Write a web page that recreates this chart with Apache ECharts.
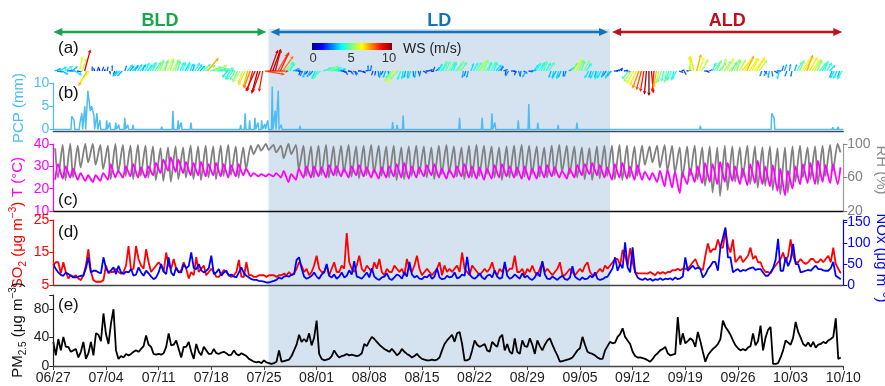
<!DOCTYPE html>
<html><head><meta charset="utf-8">
<script src="https://cdn.jsdelivr.net/npm/echarts@6/dist/echarts.min.js"></script>
<style>html,body{margin:0;padding:0;background:#fff}#c{width:885px;height:386px}</style>
</head><body><div id="c"></div><script>
// ---- axis labels and periods (days since 06/27) ----
const dateLabels = ['06/27','07/04','07/11','07/18','07/25','08/01','08/08','08/15','08/22','08/29','09/05','09/12','09/19','09/26','10/03','10/10'];
const periods = [
  { name: 'BLD', start: 0, end: 28.6 },
  { name: 'LD', start: 28.6, end: 74 },
  { name: 'ALD', start: 74, end: 105 }
];

// ---- daily temperature extremes (°C): minimum ~06:00, maximum ~15:00 ----
const tempLow = [
 24,24.5,25,24,23.5,23,23.5, 24,25,25,25.5,25,25,26, 27,28,27.5,27,26,26,25.5,
 26,25.5,25,25.5,26,25.5,25.5, 25.5,25.5,25,23,24,25,25, 25.5,25,26,25.5,25,26,25.5,
 25,24.5,25,25.5,25,24.5,25, 25.5,26,25,24.5,25,25.5,25, 24.5,24,24.5,25,25.5,25,24.5,
 24,24.5,25,25.5,25,24.5,25, 26,26.5,26,25,24,25,24.5, 24,24,24,23,21,20.5,18,
 22,23,22.5,23,22,23,23.5, 22,21.5,22.5,22,21,19,17, 20,22,22.5,22,23,22.5,22
];
const tempHigh = [
 31,30,29,27,26,26,27, 31,28,30,31,29.5,30,31.5, 33,34,33,32,31.5,32,31,
 31.5,31,30.5,31,29,27,26.5, 26.5,27,28,26.5,29,30,30, 29.5,30.5,30,29,30,30.5,29.5,
 28.5,29.5,30,31,31.5,30,29.5, 30.5,31,29,28.5,30,31,30, 29.5,29,30.5,31,30,29.5,30,
 29,30,30.5,29.5,28,29,30.5, 31,31.5,30.5,29.5,31,31.5,30, 30.5,27.5,27,28,28.5,27.5,27,
 29,30,31.5,31,32,31.5,30, 29,31,32.5,30,30.5,29,28, 30,31,31.5,32.5,30.5,31,29.5
];
// ---- daily relative humidity extremes (%): maximum ~06:00, minimum ~15:00 ----
const rhHigh = [
 95,99,100,98,100,100,99, 98,100,99,98,99,98,97, 95,96,97,96,98,97,98,
 97,98,99,97,96,98,99, 100,99,98,100,99,98,97, 98,99,97,98,99,97,98,
 99,98,97,98,96,97,98, 97,96,98,99,97,96,98, 99,98,97,96,97,98,99,
 98,97,96,98,99,98,97, 96,95,97,98,98,99,98, 97,98,97,98,99,98,96,
 97,98,96,97,96,98,97, 96,98,97,96,97,95,96, 97,98,96,97,98,99,100
];
const rhLow = [
 60,57,60,72,78,75,70, 58,66,62,58,62,60,57, 56,55,58,60,58,57,60,
 58,62,63,60,70,88,92, 93,90,83,88,70,62,60, 63,60,62,66,61,59,63,
 65,62,60,57,58,62,64, 60,58,64,66,61,58,60, 62,64,60,57,60,62,61,
 64,61,60,63,67,64,60, 58,57,59,62,58,57,60, 62,75,78,72,68,66,60,
 62,58,50,42,38,45,55, 60,52,48,50,45,40,42, 55,60,58,52,62,68,90
];

// ---- precipitation events [day, mm] ----
const pcpEvents = [
 [2.45,2.8],[2.75,2],[3.55,1.5],[3.8,3.5],[4.2,5],[4.6,8.3],[4.9,4],[5.1,5],[5.4,3],[5.8,3.5],[6.2,2],
 [7.1,2],[7.5,1.5],[8.3,1.5],[8.7,1],[9.5,2.5],[9.9,1],[10.6,1],[14.4,0.6],[15.9,4],[16.6,2],[17,1.5],[18.3,1.5],
 [24.9,1],[25.5,3.5],[26.1,2],[26.8,2.5],[27.2,1.5],[27.7,2],[28.1,1.2],[28.5,2],[29.1,9.2],[29.5,4],[29.9,8.4],[30.3,1],
 [32.8,0.8],[45.1,1.6],[45.7,1],[46.5,3],[54,2.5],[57,2.5],[58.3,3.5],[58.7,1.5],[61.8,2],[63.2,5.5],[64.4,1.5],
 [67.1,1],[69.6,1.5],[79,0.3],[86,0.8],[95.5,3.5],[95.8,2.5],[103.6,0.5],[104.3,0.6]
];

// ---- 8-hourly SO2 (µg m-3), three values per day ----
const so2 = [
 11,12,12, 8.6,12,9, 7,8,7.5, 8,7,6.5, 8,11,16, 9,6.5,6, 6,6,6.5,
 11,8.6,9, 9,10,9, 8.5,9,11, 17,9.6,10, 17,13,11, 10,16,12, 9,10,11,
 12,11,9, 15,11,10, 13,10,9, 9.5,12,10, 7,9,8, 13.6,9,10, 11,8,9,
 10,9,7.5, 7.5,8.5,9.6, 9,8,7.5, 8,9,12.7, 7.5,7.5,12, 8,8,7.5, 7.5,8,8,
 8,7.5,8, 8,8,7.5, 8,8,8.5, 8,9,8, 8.5,10,12, 11,9,10, 8,9,11,
 14,10,9, 9,11,8, 10,12,9, 9,11,10, 21,12,10, 9,11,14, 10,9,11,
 10,9,12, 10,13,9, 8,10,9, 9,11,10, 9,10,8, 13,10,9, 11,14,10,
 8,9,10, 9,8,9, 10,12,8, 11,9,10, 9,10,11, 9,15,10, 9,8,11,
 10,9,8, 9,10,9, 10,12,9, 8,10,9, 11,9,10, 10,14,9, 9,10,8,
 10,9,11, 9,8,10, 12,9,10, 9,8,9, 10,12,8, 8,9,10, 9,8,9,
 10,9,11, 12,9,8, 8,9,10, 9,11,10, 11,12,13, 13,11,15.8, 14,11,16.3,
 12,9,8.6, 8.6,8.6,8.6, 8.5,9,8.5, 8,9,8.5, 9,8.5,9, 9,9.6,9.5, 10,9.5,10,
 10,10,11, 12,13,11, 10,9.6,14, 17.8,15,16, 16,19,16.5, 16.5,22,17, 15,19,12,
 13,14,12, 13,14,16.5, 13,14,12, 12,10,9, 9,8.6,10, 11,12,13, 15,12,14,
 19,14,12, 12,13,12, 11.5,12,13, 13,12,12, 13,12,13, 14,12,16.5, 11.5,10,8.6
];
// ---- 8-hourly NOx (µg m-3) ----
const nox = [
 50,38,30, 24,22,30, 26,22,18, 18,20,22, 22,40,66, 30,34,34, 30,28,66,
 40,30,35, 42,26,46, 30,26,32, 30,38,22, 25,42,30, 22,34,28, 20,14,18,
 30,50,32, 26,66,30, 22,42,30, 30,50,40, 45,78,40, 38,50,35, 30,34,40,
 70,26,30, 38,22,30, 34,22,25, 20,18,30, 42,28,22, 18,14,12, 12,10,9,
 8,6,6, 8,10,12, 18,15,20, 22,20,25, 26,60,66, 40,20,15, 18,22,30,
 20,15,25, 30,50,22, 18,25,15, 20,30,18, 22,35,25, 57,20,18, 15,22,30,
 18,40,20, 15,12,18, 20,28,15, 12,18,25, 22,15,30, 20,55,25, 18,22,15,
 14,20,18, 25,15,20, 40,18,14, 15,22,18, 20,30,16, 18,25,22, 67,25,18,
 15,20,28, 18,14,22, 25,18,35, 20,15,18, 55,22,15, 18,25,20, 15,28,18,
 22,15,12, 18,30,20, 57,25,15, 14,20,16, 12,18,22, 14,12,18, 45,20,15,
 12,18,14, 15,22,18, 30,15,12, 14,18,20, 30,40,66, 34,50,40, 102,42,30,
 90,30,18, 14,12,16, 12,15,10, 14,12,16, 12,15,14, 16,12,18, 14,16,20,
 66,34,40, 46,38,42, 38,18,25, 38,45,55, 55,34,90, 113,137,66, 66,30,35,
 38,32,36, 34,38,40, 42,36,38, 38,30,22, 22,30,40, 60,110,34, 34,66,45,
 60,98,50, 50,30,32, 34,36,34, 40,46,38, 38,35,34, 34,40,55, 22,18,14
];
// ---- 8-hourly PM2.5 (µg m-3) ----
const pm25 = [
 34,15,38, 22,41,27, 27,20,22, 24,12,20, 34,10,18, 34,15,46, 44,35,74,
 45,31,60, 80,22,10, 14,12,17, 15,17,20, 22,20,24, 28,43,30, 27,17,16,
 17,16,18, 27,46,29, 30,36,24, 12,27,27, 34,20,10, 31,20,15, 27,22,17,
 17,24,18, 17,19,20, 18,15,16, 22,17,15, 18,16,14, 10,8,6, 5,6,4,
 8,5,4, 3,4,6, 22,6,7, 8,9,14, 22,30,44, 34,38,34, 46,29,40,
 64,17,10, 8,9,10, 14,22,16, 12,14,15, 17,15,16, 15,14,15, 18,31,28,
 35,41,38, 34,30,27, 24,22,20, 24,20,15, 18,24,20, 17,15,12, 14,17,13,
 10,9,8, 8,9,8, 9,12,22, 31,36,40, 44,34,46, 48,31,8, 8,10,22,
 36,30,27, 29,31,22, 20,34,30, 27,40,44, 22,31,20, 17,39,20, 17,36,28,
 27,39,30, 17,36,28, 22,30,36, 39,30,22, 15,6,7, 8,9,10, 12,17,22,
 25,41,30, 20,18,17, 15,12,10, 10,22,28, 34,32,33, 41,45,53, 41,36,31,
 20,14,12, 12,11,10, 8,6,10, 15,18,22, 24,27,18, 15,16,17, 69,30,46,
 32,35,39, 36,27,48, 35,20,6, 15,20,24, 27,31,38, 64,55,50, 44,36,29,
 25,22,24, 22,26,28, 46,29,35, 57,22,40, 51,55,3, 3,4,12, 22,36,33,
 30,40,62, 48,40,31, 28,33,27, 34,26,30, 31,34,32, 36,38,41, 67,10,12
];
// ---- 8-hourly wind speed (m/s) and direction (deg, blowing from) ----
const windSpeed = [
 3,2.5,3.5, 3,4,2.5, 2.5,3,3.5, 2,6,5.5, 9,7,6, 2,1.5,2, 1.5,2,1,
 2,1.5,2.5, 2,3,3.5, 3,2.5,3.5, 3,3.5,3, 3.5,4,3, 4,3.5,4.5, 4,4.5,5,
 5,5.5,4.5, 6,5,5.5, 5,4.5,4, 4,3.5,4, 3.5,3,4, 3.5,3,4.5, 5,7,5,
 4.5,5.5,4, 4,5,4, 3.5,4,4.5, 4.5,5,5.5, 5.5,6.5,7, 7.5,8.5,9, 9.5,9,8.5,
 8,8.5,9, 9.5,9,8, 8.5,7.5,5, 4.5,4,3, 2.5,2,2, 2.5,3,2, 3,2.5,3.5,
 4,4.5,4, 4.5,5,4.5, 4,4.5,3.5, 2,1.5,2, 1.5,2,2.5, 2,1.5,2, 1.5,2,2.5,
 2.5,2,2, 2.5,3,2, 3,2.5,4, 5.5,6,5, 4,3.5,3, 3,3.5,2.5, 3,2,2.5,
 2,1.5,2, 1.5,2,2.5, 3.5,4,4.5, 4.5,5,4, 4,4.5,5, 4.5,3,2.5, 3,3.5,4,
 4.5,5,5.5, 5,4.5,4, 4.5,4,3.5, 3,2.5,2, 2,2.5,2, 1.5,2,2.5, 2.5,2,3,
 2,2.5,3.5, 4,4.5,4, 4.5,4,4.5, 3,3.5,3, 3.5,3,2.5, 2.5,3,4.5, 6,5.5,5,
 4.5,5,4, 3.5,3,3.5, 3,4,3.5, 3,2.5,3.5, 3,2,1.5, 2,1.5,2, 2,4.5,5.5,
 6,6.5,7.5, 8,8.5,9.5, 10,9,8.5, 7,5.5,5, 4.5,5,4, 4.5,4,4, 2,1.5,2,
 2,5,6, 6.5,7,6, 5.5,2,1.5, 2,4,4.5, 5,4.5,5.5, 5,6,5, 4.5,5.5,5,
 5.5,6.5,6, 7,6.5,6, 6,6.5,5.5, 2.5,2,2.5, 3,2.5,2, 2,3.5,2.5, 3,2.5,3,
 2.5,3,4.5, 5,6,6.5, 7,6.5,6, 5.5,5,4.5, 4,4.5,4, 3.5,3,3.5, 3.5,3,4
];
const windDir = [
 250,280,240, 300,240,260, 270,230,300, 280,190,200, 195,30,40, 180,160,200, 170,200,190,
 190,350,180, 20,40,50, 45,200,220, 220,230,210, 215,225,205, 210,220,215, 205,215,210,
 200,210,195, 205,200,210, 200,195,205, 200,210,195, 205,200,210, 215,225,230, 240,220,250,
 250,245,255, 260,255,265, 40,30,35, 30,25,35, 20,25,15, 20,15,25, 15,20,10,
 280,270,200, 200,195,210, 205,215,220, 225,200,250, 260,280,20, 30,20,40, 30,40,25,
 35,45,250, 250,245,255, 250,260,255, 270,300,330, 280,320,300, 350,270,290, 310,260,180,
 190,20,10, 350,10,30, 20,350,30, 40,35,45, 20,10,15, 5,20,355, 10,340,15,
 300,270,250, 280,200,230, 210,220,200, 205,215,210, 200,220,210, 215,10,20, 15,200,210,
 215,220,210, 205,215,200, 210,205,220, 230,200,250, 10,30,270, 290,20,340, 10,300,30,
 280,260,220, 210,215,205, 200,210,215, 20,10,30, 15,25,5, 20,240,220, 215,210,205,
 200,210,215, 30,20,25, 15,25,30, 20,35,25, 40,270,250, 230,200,260, 280,40,35,
 30,25,20, 15,10,5, 0,355,5, 10,15,20, 15,10,20, 25,15,30, 290,250,330,
 260,190,170, 165,195,200, 210,270,300, 250,210,215, 205,220,200, 215,210,225, 210,205,200,
 210,220,215, 205,215,210, 220,210,215, 20,320,30, 10,350,300, 270,15,200, 200,20,190,
 10,200,210, 205,215,210, 200,210,215, 210,205,220, 215,200,210, 225,20,30, 25,15,30
];

// ---- styling ----
const FONT = "'Liberation Sans', Arial, Helvetica, sans-serif";
const LEFT = 53.3, RIGHT = 885 - 843.3;
const periodColors = { BLD: '#1aa550', LD: '#1373b9', ALD: '#c0101c' };
const C_PCP = '#4cbdf3', C_T = '#ff00ff', C_RH = '#808080', C_SO2 = '#ff0000', C_NOX = '#0000ff';

function jet(t) {
  t = Math.max(0, Math.min(1, t));
  const cl = v => Math.round(255 * Math.max(0, Math.min(1, v)));
  return 'rgb(' + cl(1.5 - Math.abs(4 * t - 3)) + ',' + cl(1.5 - Math.abs(4 * t - 2)) + ',' + cl(1.5 - Math.abs(4 * t - 1)) + ')';
}

// ---- series data ----
const tData = [], rhData = [];
tempLow.forEach((v, i) => { tData.push([i + 0.25, v]); tData.push([i + 0.625, tempHigh[i]]); });
rhHigh.forEach((v, i) => { rhData.push([i + 0.25, v]); rhData.push([i + 0.625, rhLow[i]]); });
const eightHourly = arr => arr.map((v, i) => [i / 3, v]);
const windData = windSpeed.map((s, i) => [i / 3 + 1 / 6, s, windDir[i]]);
const pcpData = [[0, 0]];
let prev = -1;
pcpEvents.forEach(([d, v]) => {
  if (prev < 0 || d - prev > 0.35) {
    if (prev >= 0) pcpData.push([prev + 0.1, 0]);
    pcpData.push([d - 0.1, 0]);
  }
  pcpData.push([d, v]);
  prev = d;
});
pcpData.push([prev + 0.1, 0], [105, 0]);

// ---- axes ----
const xBase = (g, extra) => Object.assign({
  type: 'value', gridIndex: g, min: 0, max: 105, interval: 7, z: 10,
  axisLine: { show: false }, axisTick: { show: false }, axisLabel: { show: false }, splitLine: { show: false }
}, extra || {});
const yBase = (g, color, ticks, labels, extra) => Object.assign({
  type: 'value', gridIndex: g, z: 10,
  axisLine: { show: true, lineStyle: { color: color, width: 1.2 } },
  axisTick: { show: true, length: 4, lineStyle: { color: color }, customValues: ticks },
  axisLabel: { color: color, fontSize: 14, fontFamily: FONT, margin: 4, customValues: labels },
  splitLine: { show: false }
}, extra || {});

const chart = echarts.init(document.getElementById('c'), null, { renderer: 'canvas' });

const subLabel = (parts, color) => ({
  text: parts,
  rich: {
    b: { fontSize: 15, lineHeight: 20, verticalAlign: 'middle', fill: color, fontFamily: FONT },
    s: { fontSize: 10, lineHeight: 10, verticalAlign: 'bottom', fill: color, fontFamily: FONT },
    p: { fontSize: 10, lineHeight: 10, verticalAlign: 'top', fill: color, fontFamily: FONT }
  },
  align: 'center', verticalAlign: 'middle'
});
const sideText = (x, y, rot, style) => ({ type: 'text', x: x, y: y, rotation: rot, silent: true, z: 20, style: style });
const plainStyle = (t, color) => ({ text: t, fill: color, font: '15px ' + FONT, align: 'center', verticalAlign: 'middle' });
const letter = (t, y) => ({ type: 'text', x: 58, y: y, z: 20, silent: true, style: { text: t, fill: '#111', font: '17px ' + FONT, align: 'left', verticalAlign: 'middle' } });

const barStops = [0, 0.125, 0.375, 0.625, 0.875, 1].map(t => ({ offset: t, color: jet(t) }));

chart.setOption({
  animation: false,
  grid: [
    { left: LEFT, right: RIGHT, top: 29, height: 337 },
    { left: LEFT, right: RIGHT, top: 48, height: 46 },
    { left: LEFT, right: RIGHT, top: 83, height: 46.5 },
    { left: LEFT, right: RIGHT, top: 144, height: 67 },
    { left: LEFT, right: RIGHT, top: 220, height: 65 },
    { left: LEFT, right: RIGHT, top: 295, height: 71 }
  ],
  xAxis: [
    xBase(0), xBase(1),
    xBase(2, { axisLine: { show: true, onZero: false, lineStyle: { color: '#3d4b5c', width: 1.3 } }, offset: 1.5 }),
    xBase(3, { axisLine: { show: true, onZero: false, lineStyle: { color: '#111', width: 1.3 } } }),
    xBase(4, { axisLine: { show: true, onZero: false, lineStyle: { color: '#444', width: 1.3 } } }),
    xBase(5, {
      axisLine: { show: true, onZero: false, lineStyle: { color: '#444', width: 1.3 } },
      axisTick: { show: true, length: 4, lineStyle: { color: '#444' } },
      axisLabel: { show: true, color: '#222', fontSize: 14, fontFamily: FONT, margin: 5,
        formatter: v => dateLabels[Math.round(v / 7)] || '' }
    })
  ],
  yAxis: [
    { type: 'value', gridIndex: 0, min: 0, max: 1, show: false },
    { type: 'value', gridIndex: 1, min: -1, max: 1, show: false },
    yBase(2, C_PCP, [0, 5, 10], [0, 5, 10], { min: 0, max: 10 }),
    yBase(3, C_T, [10, 20, 30, 40], [10, 20, 30, 40], { min: 10, max: 40 }),
    yBase(3, C_RH, [20, 60, 100], [20, 60, 100], { min: 20, max: 100, position: 'right',
      axisLine: { show: true, lineStyle: { color: '#9a9a9a', width: 1.2 } } }),
    yBase(4, C_SO2, [5, 15, 25], [5, 15, 25], { min: 5, max: 25 }),
    yBase(4, C_NOX, [0, 50, 100, 150, 155], [0, 50, 100, 150], { min: 0, max: 155, position: 'right' }),
    yBase(5, '#222', [0, 40, 80, 100], [0, 40, 80], { min: 0, max: 100 })
  ],
  series: [
    { // LD shading
      type: 'custom', xAxisIndex: 0, yAxisIndex: 0, z: 0, silent: true,
      data: periods.filter(p => p.name === 'LD').map(p => [p.start, p.end]),
      renderItem: (params, api) => {
        const a = api.coord([api.value(0), 1]), b = api.coord([api.value(1), 0]);
        return { type: 'rect', shape: { x: a[0], y: a[1], width: b[0] - a[0], height: b[1] - a[1] }, style: { fill: '#d5e3f1' } };
      }
    },
    { // period arrows and names
      type: 'custom', xAxisIndex: 0, yAxisIndex: 0, z: 5, silent: true, clip: false,
      data: periods.map(p => [p.start, p.end]),
      renderItem: (params, api) => {
        const i = params.dataIndex, p = periods[i], c = periodColors[p.name];
        const x1 = api.coord([api.value(0), 1])[0] + (i === 0 ? 0 : 2);
        const x2 = api.coord([api.value(1), 1])[0] - (i === periods.length - 1 ? 1 : 2);
        const y = api.coord([0, 1])[1] + 3;
        const h = 9, w = 4;
        return { type: 'group', children: [
          { type: 'line', shape: { x1: x1 + h - 1, y1: y, x2: x2 - h + 1, y2: y }, style: { stroke: c, lineWidth: 2.5 } },
          { type: 'polygon', shape: { points: [[x1, y], [x1 + h, y - w], [x1 + h, y + w]] }, style: { fill: c } },
          { type: 'polygon', shape: { points: [[x2, y], [x2 - h, y - w], [x2 - h, y + w]] }, style: { fill: c } },
          { type: 'text', style: { text: p.name, x: (x1 + x2) / 2, y: y - 11, align: 'center', verticalAlign: 'middle', fill: c, font: 'bold 18px ' + FONT } }
        ] };
      }
    },
    { // wind vectors
      type: 'custom', xAxisIndex: 1, yAxisIndex: 1, z: 4, silent: true, clip: false,
      data: windData,
      renderItem: (params, api) => {
        const base = api.coord([api.value(0), 0]);
        const s = api.value(1), dir = api.value(2) * Math.PI / 180;
        const L = s * 2.5, ux = -Math.sin(dir), uy = Math.cos(dir);
        const ex = base[0] + ux * L, ey = base[1] + uy * L;
        const hs = Math.min(3.5, L * 0.35), bx = ex - ux * hs, by = ey - uy * hs;
        const px = -uy * hs * 0.5, py = ux * hs * 0.5;
        const c = jet(s / 10);
        return { type: 'group', children: [
          { type: 'line', shape: { x1: base[0], y1: base[1], x2: bx, y2: by }, style: { stroke: c, lineWidth: 1.3 } },
          { type: 'polygon', shape: { points: [[ex, ey], [bx + px, by + py], [bx - px, by - py]] }, style: { fill: c } }
        ] };
      }
    },
    { type: 'line', name: 'PCP', xAxisIndex: 2, yAxisIndex: 2, data: pcpData, showSymbol: false, z: 3,
      lineStyle: { color: C_PCP, width: 1.5 } },
    { type: 'line', name: 'RH', xAxisIndex: 3, yAxisIndex: 4, data: rhData, showSymbol: false, z: 3, smooth: 0.25,
      lineStyle: { color: C_RH, width: 1.8 } },
    { type: 'line', name: 'T', xAxisIndex: 3, yAxisIndex: 3, data: tData, showSymbol: false, z: 4, smooth: 0.25,
      lineStyle: { color: C_T, width: 1.8 } },
    { type: 'line', name: 'SO2', xAxisIndex: 4, yAxisIndex: 5, data: eightHourly(so2), showSymbol: false, z: 3,
      lineStyle: { color: C_SO2, width: 1.8 } },
    { type: 'line', name: 'NOx', xAxisIndex: 4, yAxisIndex: 6, data: eightHourly(nox), showSymbol: false, z: 4,
      lineStyle: { color: C_NOX, width: 1.8 } },
    { type: 'line', name: 'PM2.5', xAxisIndex: 5, yAxisIndex: 7, data: eightHourly(pm25), showSymbol: false, z: 3,
      lineStyle: { color: '#000', width: 1.8 } }
  ],
  graphic: [
    { type: 'rect', silent: true, z: 20, shape: { x: 312, y: 43, width: 80, height: 7 },
      style: { fill: new echarts.graphic.LinearGradient(0, 0, 1, 0, barStops) } },
    { type: 'text', x: 313, y: 58, z: 20, silent: true, style: { text: '0', fill: '#333', font: '13px ' + FONT, align: 'center', verticalAlign: 'middle' } },
    { type: 'text', x: 351, y: 58, z: 20, silent: true, style: { text: '5', fill: '#333', font: '13px ' + FONT, align: 'center', verticalAlign: 'middle' } },
    { type: 'text', x: 389, y: 58, z: 20, silent: true, style: { text: '10', fill: '#333', font: '13px ' + FONT, align: 'center', verticalAlign: 'middle' } },
    { type: 'text', x: 403, y: 49, z: 20, silent: true, style: { text: 'WS (m/s)', fill: '#222', font: '14px ' + FONT, align: 'left', verticalAlign: 'middle' } },
    letter('(a)', 48), letter('(b)', 93), letter('(c)', 200), letter('(d)', 232), letter('(e)', 305),
    sideText(19, 108, Math.PI / 2, plainStyle('PCP (mm)', C_PCP)),
    sideText(18, 177, Math.PI / 2, plainStyle('T (°C)', C_T)),
    sideText(18, 245, Math.PI / 2, subLabel('{b|SO}{s|2}{b| (μg m}{p|−3}{b|)}', C_SO2)),
    sideText(18, 330, Math.PI / 2, subLabel('{b|PM}{s|2.5}{b| (μg m}{p|−3}{b|)}', '#111')),
    sideText(881, 170, -Math.PI / 2, plainStyle('RH (%)', '#8c8c8c')),
    sideText(881, 258, -Math.PI / 2, subLabel('{b|NOx (μg m}{p|−3}{b|)}', C_NOX))
  ]
});
</script></body></html>
